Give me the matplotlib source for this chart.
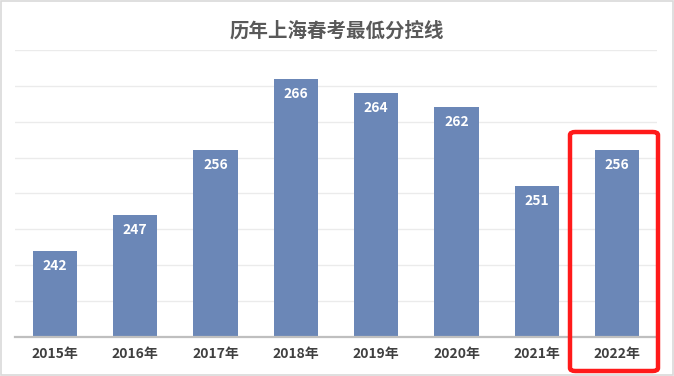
import matplotlib.pyplot as plt
from matplotlib.patches import FancyBboxPatch, Rectangle

plt.rcParams['font.family'] = ['Noto Sans CJK SC', 'DejaVu Sans']

years = ["2015年", "2016年", "2017年", "2018年", "2019年", "2020年", "2021年", "2022年"]
scores = [242, 247, 256, 266, 264, 262, 251, 256]

fig = plt.figure(figsize=(6.74, 3.76), dpi=100)
ax = fig.add_axes([0.022, 0.104, 0.953, 0.763])

x = range(len(years))
bars = ax.bar(x, scores, width=0.55, color="#6b87b7", zorder=2)

ax.set_ylim(230, 270)
ax.set_xlim(-0.5, len(years) - 0.5)
ax.set_yticks(range(230, 271, 5))
ax.yaxis.grid(True, color="#ebebeb", linewidth=1, zorder=0)
ax.tick_params(axis="y", left=False, labelleft=False)
ax.tick_params(axis="x", length=0, pad=7)
ax.set_xticks(list(x))
ax.set_xticklabels(years, fontsize=10, fontweight="bold", color="#404040")

for s in ["top", "right", "left"]:
    ax.spines[s].set_visible(False)
ax.spines["bottom"].set_color("#bfbfbf")
ax.spines["bottom"].set_linewidth(1.6)

for b, v in zip(bars, scores):
    ax.text(b.get_x() + b.get_width() / 2, v - 2.1, str(v), ha="center", va="center",
            color="white", fontsize=10, fontweight="bold", zorder=3)

fig.text(0.5, 0.918, "历年上海春考最低分控线", ha="center", va="center",
         fontsize=14, fontweight="bold", color="#595959")

# highlight box around the last year
fig.patches.append(FancyBboxPatch((570 / 674, 1 - 371 / 376), 88 / 674, 239 / 376,
                                  boxstyle="round,pad=0,rounding_size=0.008",
                                  transform=fig.transFigure, fill=False,
                                  edgecolor="#ff1a1a", linewidth=3.2))

# thin outer frame
fig.patches.append(Rectangle((0.001, 0.002), 0.997, 0.996, transform=fig.transFigure,
                             fill=False, edgecolor="#d9d9d9", linewidth=1.2))

fig.savefig("out.png", dpi=100)
